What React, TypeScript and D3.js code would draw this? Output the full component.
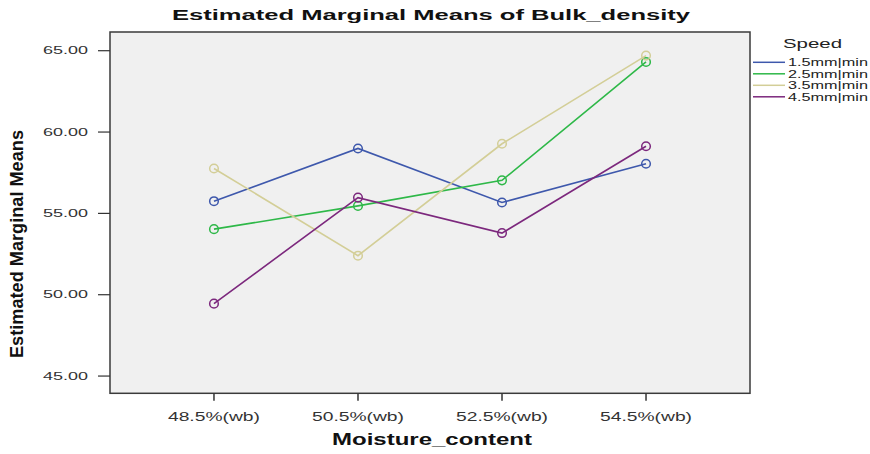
import React from "react";
import * as d3 from "d3";

const categories = ["48.5%(wb)", "50.5%(wb)", "52.5%(wb)", "54.5%(wb)"];
const seriesNames = ["1.5mm|min", "2.5mm|min", "3.5mm|min", "4.5mm|min"];
const speed15 = [55.75, 58.99, 55.67, 58.05];
const speed25 = [54.03, 55.46, 57.03, 64.31];
const speed35 = [57.76, 52.4, 59.28, 64.7];
const speed45 = [49.45, 55.97, 53.79, 59.13];
const yTicks = [45, 50, 55, 60, 65];
const seriesColors = ["#3E58AC", "#2EB848", "#D3CE97", "#7C287D"];

const W = 870;
const H = 454;
const plot = { left: 110, right: 750, top: 32, bottom: 393.3 };
const FONT = "'Liberation Sans', Arial, sans-serif";

export default function App() {
  const x = d3
    .scalePoint<string>()
    .domain(categories)
    .range([plot.left, plot.right])
    .padding(0.722);
  const y = d3.scaleLinear().domain([43.94, 66.15]).range([plot.bottom, plot.top]);
  const allSeries = [speed15, speed25, speed35, speed45];
  const line = d3
    .line<number>()
    .x((_, i) => x(categories[i]) as number)
    .y((d) => y(d));

  return (
    <svg
      width={W}
      height={H}
      style={{ position: "absolute", left: 0, top: 0, background: "#fff" }}
    >
      <rect x={0} y={0} width={W} height={H} fill="#fff" />
      {/* title */}
      <text
        x={172}
        y={20}
        fontFamily={FONT}
        fontWeight="bold"
        fontSize={14.5}
        fill="#111"
        textLength={518}
        lengthAdjust="spacingAndGlyphs"
      >
        Estimated Marginal Means of Bulk_density
      </text>
      {/* plot area */}
      <rect
        x={plot.left}
        y={plot.top}
        width={plot.right - plot.left}
        height={plot.bottom - plot.top}
        fill="#F0F0F0"
        stroke="#3a3a3a"
        strokeWidth={1.5}
      />
      {/* y axis ticks */}
      {yTicks.map((t) => (
        <g key={t}>
          <line x1={98} x2={plot.left} y1={y(t)} y2={y(t)} stroke="#333" strokeWidth={1.2} />
          <text
            x={43}
            y={y(t)}
            dy="0.36em"
            fontFamily={FONT}
            fontSize={10.5}
            fill="#333"
            textLength={45}
            lengthAdjust="spacingAndGlyphs"
          >
            {t.toFixed(2)}
          </text>
        </g>
      ))}
      {/* x axis ticks */}
      {categories.map((c) => (
        <g key={c}>
          <line
            x1={x(c)}
            x2={x(c)}
            y1={plot.bottom}
            y2={plot.bottom + 7.5}
            stroke="#333"
            strokeWidth={1.5}
          />
          <text
            x={(x(c) as number) - 46}
            y={421}
            fontFamily={FONT}
            fontSize={12.5}
            fill="#333"
            textLength={92}
            lengthAdjust="spacingAndGlyphs"
          >
            {c}
          </text>
        </g>
      ))}
      {/* axis titles */}
      <text
        x={332}
        y={445}
        fontFamily={FONT}
        fontWeight="bold"
        fontSize={16.5}
        fill="#111"
        textLength={200}
        lengthAdjust="spacingAndGlyphs"
      >
        Moisture_content
      </text>
      <text
        transform="translate(23,358) rotate(-90)"
        fontFamily="'Liberation Sans Narrow', 'Arial Narrow', 'Liberation Sans', sans-serif"
        fontWeight="bold"
        fontSize={19}
        fill="#111"
        textLength={228}
        lengthAdjust="spacingAndGlyphs"
      >
        Estimated Marginal Means
      </text>
      {/* series */}
      {allSeries.map((s, si) => (
        <g key={si}>
          <path d={line(s) as string} fill="none" stroke={seriesColors[si]} strokeWidth={1.6} />
          {s.map((v, i) => (
            <circle
              key={i}
              cx={x(categories[i])}
              cy={y(v)}
              r={4.3}
              fill="none"
              stroke={seriesColors[si]}
              strokeWidth={1.5}
            />
          ))}
        </g>
      ))}
      {/* legend */}
      <text
        x={783}
        y={48.3}
        fontFamily={FONT}
        fontSize={13}
        fill="#222"
        textLength={59}
        lengthAdjust="spacingAndGlyphs"
      >
        Speed
      </text>
      {seriesNames.map((n, i) => {
        const ly = 62.3 + i * 11.5;
        return (
          <g key={n}>
            <line x1={753} x2={785} y1={ly} y2={ly} stroke={seriesColors[i]} strokeWidth={1.5} />
            <text
              x={788}
              y={ly + 3.7}
              fontFamily={FONT}
              fontSize={10.5}
              fill="#222"
              textLength={80}
              lengthAdjust="spacingAndGlyphs"
            >
              {n}
            </text>
          </g>
        );
      })}
    </svg>
  );
}
